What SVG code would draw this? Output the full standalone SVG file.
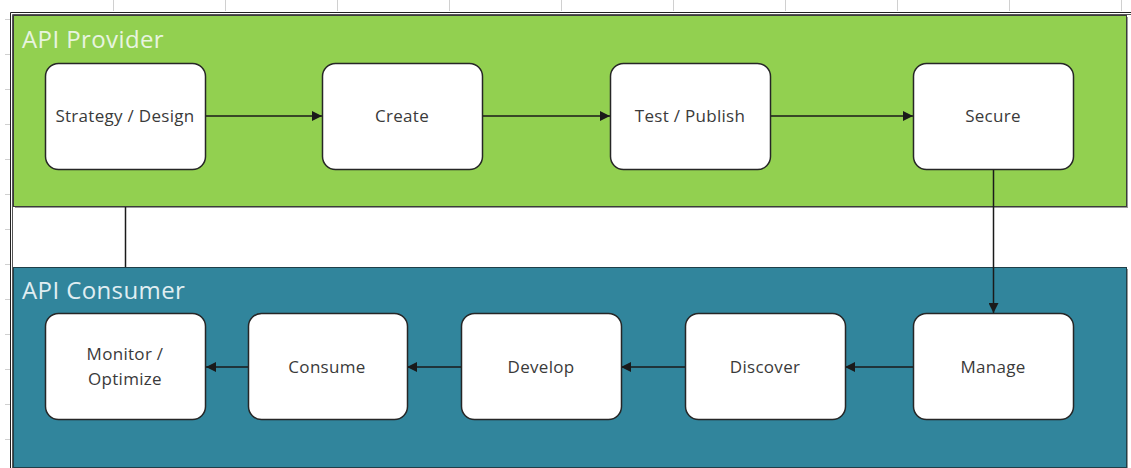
<svg xmlns="http://www.w3.org/2000/svg" width="1131" height="468" viewBox="0 0 1131 468">
<defs>
<style>
.tick{stroke:#d0d0d0;stroke-width:1}
.node rect{fill:#ffffff;stroke:#262626;stroke-width:1.5}
.node text{font-family:"Open Sans","Noto Sans",sans-serif;font-size:17px;letter-spacing:0.3px;fill:#3a3a3a;text-anchor:middle}
.lane{font-family:"Open Sans","Noto Sans",sans-serif;font-size:24px;letter-spacing:0.4px;fill:#e8f4e0}
.conn{stroke:#1a1a1a;stroke-width:1.5;fill:none}
</style>
<marker id="ah" viewBox="0 0 10 10" refX="10" refY="5" markerWidth="10" markerHeight="10" markerUnits="userSpaceOnUse" orient="auto">
<path d="M0,0 L10,5 L0,10 Z" fill="#1a1a1a"/>
</marker>
</defs>
<rect width="1131" height="468" fill="#ffffff"/>
<g id="grid">
<line class="tick" x1="113.5" y1="0" x2="113.5" y2="11"/>
<line class="tick" x1="225.5" y1="0" x2="225.5" y2="11"/>
<line class="tick" x1="337.5" y1="0" x2="337.5" y2="11"/>
<line class="tick" x1="449.5" y1="0" x2="449.5" y2="11"/>
<line class="tick" x1="561.5" y1="0" x2="561.5" y2="11"/>
<line class="tick" x1="673.5" y1="0" x2="673.5" y2="11"/>
<line class="tick" x1="785.5" y1="0" x2="785.5" y2="11"/>
<line class="tick" x1="897.5" y1="0" x2="897.5" y2="11"/>
<line class="tick" x1="1009.5" y1="0" x2="1009.5" y2="11"/>
<line class="tick" x1="1121.5" y1="0" x2="1121.5" y2="11"/>
<line class="tick" x1="5" y1="19.5" x2="10" y2="19.5"/>
<line class="tick" x1="5" y1="54.5" x2="10" y2="54.5"/>
<line class="tick" x1="5" y1="89.5" x2="10" y2="89.5"/>
<line class="tick" x1="5" y1="124.5" x2="10" y2="124.5"/>
<line class="tick" x1="5" y1="159.5" x2="10" y2="159.5"/>
<line class="tick" x1="5" y1="194.5" x2="10" y2="194.5"/>
<line class="tick" x1="5" y1="229.5" x2="10" y2="229.5"/>
<line class="tick" x1="5" y1="264.5" x2="10" y2="264.5"/>
<line class="tick" x1="5" y1="299.5" x2="10" y2="299.5"/>
<line class="tick" x1="5" y1="334.5" x2="10" y2="334.5"/>
<line class="tick" x1="5" y1="369.5" x2="10" y2="369.5"/>
<line class="tick" x1="5" y1="404.5" x2="10" y2="404.5"/>
<line class="tick" x1="5" y1="439.5" x2="10" y2="439.5"/>
<path d="M10.5,468 V12.5 H1131" fill="none" stroke="#222" stroke-width="1"/>
<path d="M12.5,468 V14.5 H1131" fill="none" stroke="#555" stroke-width="1"/>
</g>
<g id="provider">
<rect x="15" y="17" width="1113" height="191" fill="#999"/>
<rect x="13.5" y="15.5" width="1113" height="191" fill="#92D050" stroke="#3a3a3a" stroke-width="1"/>
<text class="lane" x="22" y="48">API Provider</text>
</g>
<g id="consumer">
<rect x="15" y="269" width="1113" height="200" fill="#999"/>
<rect x="13.5" y="267.5" width="1113" height="200" fill="#31859C" stroke="#1f3f48" stroke-width="1"/>
<text class="lane" x="22" y="299" style="fill:#e0eef2">API Consumer</text>
</g>
<g id="connectors">
<line class="conn" x1="206" y1="116" x2="322" y2="116" marker-end="url(#ah)"/>
<line class="conn" x1="482" y1="116" x2="610" y2="116" marker-end="url(#ah)"/>
<line class="conn" x1="770" y1="116" x2="913" y2="116" marker-end="url(#ah)"/>
<line class="conn" x1="993.5" y1="169" x2="993.5" y2="313" marker-end="url(#ah)"/>
<line class="conn" x1="913" y1="367" x2="845" y2="367" marker-end="url(#ah)"/>
<line class="conn" x1="685" y1="367" x2="621" y2="367" marker-end="url(#ah)"/>
<line class="conn" x1="461" y1="367" x2="407" y2="367" marker-end="url(#ah)"/>
<line class="conn" x1="248" y1="367" x2="206" y2="367" marker-end="url(#ah)"/>
<line class="conn" x1="125.5" y1="207" x2="125.5" y2="267"/>
</g>
<g id="strategy" class="node"><rect x="45.5" y="63.5" width="160" height="106" rx="13"/><text x="125" y="122">Strategy / Design</text></g>
<g id="create" class="node"><rect x="322.5" y="63.5" width="160" height="106" rx="13"/><text x="402" y="122">Create</text></g>
<g id="test" class="node"><rect x="610.5" y="63.5" width="160" height="106" rx="13"/><text x="690" y="122">Test / Publish</text></g>
<g id="secure" class="node"><rect x="913.5" y="63.5" width="160" height="106" rx="13"/><text x="993" y="122">Secure</text></g>
<g id="manage" class="node"><rect x="913.5" y="313.5" width="160" height="106" rx="13"/><text x="993" y="373">Manage</text></g>
<g id="discover" class="node"><rect x="685.5" y="313.5" width="160" height="106" rx="13"/><text x="765" y="373">Discover</text></g>
<g id="develop" class="node"><rect x="461.5" y="313.5" width="160" height="106" rx="13"/><text x="541" y="373">Develop</text></g>
<g id="consume" class="node"><rect x="248.5" y="313.5" width="159" height="106" rx="13"/><text x="327" y="373">Consume</text></g>
<g id="monitor" class="node"><rect x="45.5" y="313.5" width="160" height="106" rx="13"/><text x="125" y="360">Monitor /</text><text x="125" y="385">Optimize</text></g>
</svg>
